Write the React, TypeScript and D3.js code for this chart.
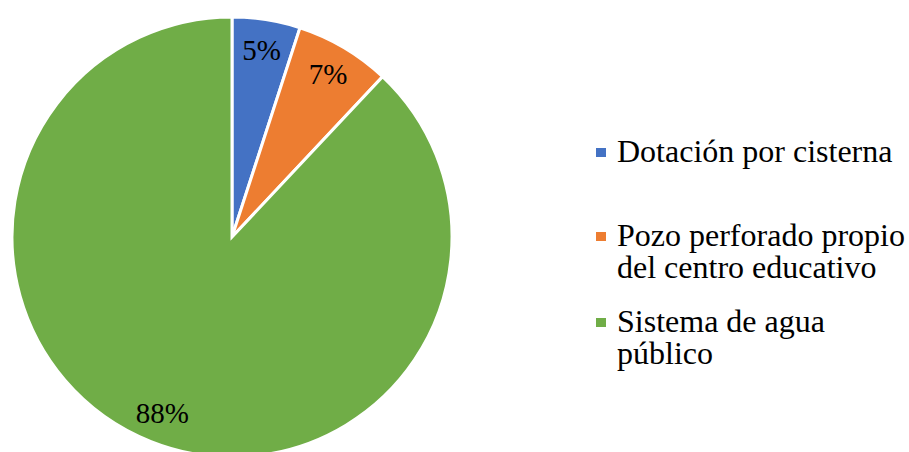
import React from "react";
import * as d3 from "d3";

const categories = ["Dotación por cisterna", "Pozo perforado propio del centro educativo", "Sistema de agua público"];
const values = [5, 7, 88];
const labels = ["5%", "7%", "88%"];
const legendLines = [["Dotación por cisterna"], ["Pozo perforado propio", "del centro educativo"], ["Sistema de agua", "público"]];
const colors = ["#4472C4", "#ED7D31", "#70AD47"];

export default function App() {
  const W = 909, H = 452;
  const cx = 232, cy = 237, r = 220;
  const pie = d3.pie<number>().sort(null).value((d) => d);
  const arcs = pie(values);
  const arc = d3.arc<d3.PieArcDatum<number>>().innerRadius(0).outerRadius(r);
  const labelArc = d3.arc<d3.PieArcDatum<number>>().innerRadius(189).outerRadius(189);
  const legendTops = [148, 232, 318];
  const lineH = 32;
  return (
    <svg width={W} height={H} style={{ position: "absolute", left: 0, top: 0 }}>
      <style>{`text { font-family: "Liberation Serif", "Times New Roman", serif !important; }`}</style>
      <rect width={W} height={H} fill="#fff" />
      <g transform={`translate(${cx},${cy})`}>
        {arcs.map((a, i) => (
          <path key={categories[i]} d={arc(a) || ""} fill={colors[i]} stroke="#fff" strokeWidth={3} />
        ))}
        {arcs.map((a, i) => {
          const [x, y] = labelArc.centroid(a);
          return (
            <text key={i} x={x} y={y + 10} textAnchor="middle" fontFamily="Liberation Serif" fontSize={29} fill="#000">
              {labels[i]}
            </text>
          );
        })}
      </g>
      {legendLines.map((lines, i) => (
        <g key={i}>
          <rect x={596} y={legendTops[i]} width={10} height={9} fill={colors[i]} />
          {lines.map((l, j) => (
            <text key={j} x={617} y={legendTops[i] + 14 + j * lineH} fontFamily="Liberation Serif" fontSize={32} fill="#000">
              {l}
            </text>
          ))}
        </g>
      ))}
    </svg>
  );
}
